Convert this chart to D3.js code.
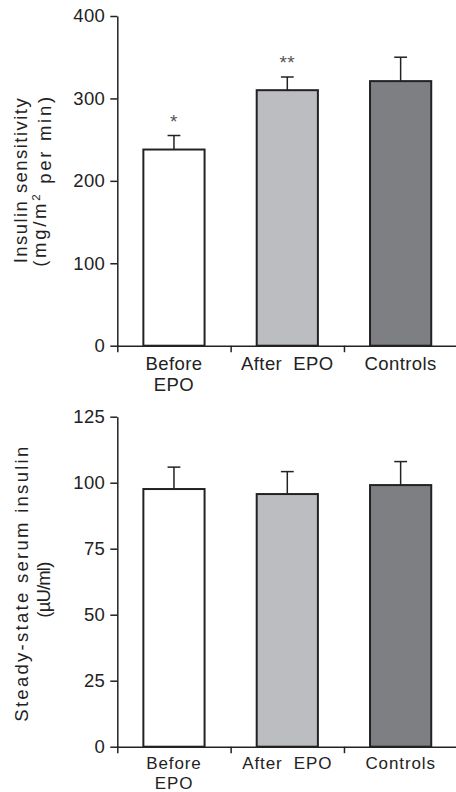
<!DOCTYPE html>
<html>
<head>
<meta charset="utf-8">
<script src="https://cdn.jsdelivr.net/npm/d3@7"></script>
<style>
  body { margin: 0; background: #fff; }
  svg text { font-family: "Liberation Sans", Arial, Helvetica, sans-serif; fill: #222; }
</style>
</head>
<body>
<div id="chart"></div>
<script>
// data
var categories = ["Before EPO", "After EPO", "Controls"];
var categoryLines = [["Before", "EPO"], ["After\u00a0\u00a0EPO"], ["Controls"]];
var barColors = ["#ffffff", "#bcbdc0", "#7e7f83"];

var sensitivity = [238, 310, 321];
var sensitivityErr = [17, 16, 29];
var sensitivityMarks = ["*", "**", ""];
var sensitivityTicks = [0, 100, 200, 300, 400];

var insulin = [97.6, 95.7, 99.1];
var insulinErr = [8.3, 8.5, 8.9];
var insulinTicks = [0, 25, 50, 75, 100, 125];

var width = 456, height = 792;
var left = 117.3, right = 457.3;
var fontSize = "18.5px";
var spacing = "0.4px";
var ink = "#222";

var svg = d3.select("#chart")
        .append("svg")
        .attr("width", width)
        .attr("height", height);

var x = d3.scaleBand()
        .domain(categories)
        .range([left, right])
        .paddingInner(0.46)
        .paddingOuter(0.23);

var sep = d3.scaleLinear().domain([0, 3]).range([left, right]);

function drawPanel(opts) {
    var y = d3.scaleLinear().domain(opts.domain).range([opts.bottom, opts.top]);
    var g = svg.append("g");

    // bars
    g.selectAll("rect.bar")
            .data(opts.values)
            .enter()
            .append("rect")
            .attr("class", "bar")
            .attr("x", function (d, i) { return x(categories[i]); })
            .attr("y", function (d) { return y(d); })
            .attr("width", x.bandwidth())
            .attr("height", function (d) { return y(0) - y(d); })
            .attr("fill", function (d, i) { return barColors[i]; })
            .attr("stroke", ink)
            .attr("stroke-width", 2);

    // error bars (upper only)
    var cap = 6.4;
    opts.values.forEach(function (v, i) {
        var cx = x(categories[i]) + x.bandwidth() / 2;
        var top = y(v + opts.errors[i]);
        g.append("line")
                .attr("x1", cx).attr("x2", cx)
                .attr("y1", y(v)).attr("y2", top)
                .attr("stroke", ink).attr("stroke-width", 1.5);
        g.append("line")
                .attr("x1", cx - cap).attr("x2", cx + cap)
                .attr("y1", top).attr("y2", top)
                .attr("stroke", ink).attr("stroke-width", 1.5);
        if (opts.marks && opts.marks[i]) {
            g.append("text")
                    .attr("x", cx)
                    .attr("y", top - 8)
                    .attr("text-anchor", "middle")
                    .attr("font-size", "19px")
                    .attr("letter-spacing", "0.5px")
                    .style("fill", "#555")
                    .text(opts.marks[i]);
        }
    });

    // y axis
    var yAxis = g.append("g")
            .attr("transform", "translate(" + left + ",0)")
            .call(d3.axisLeft(y).tickValues(opts.ticks).tickSize(7).tickSizeOuter(0).tickPadding(5));
    yAxis.selectAll("path, line").attr("stroke", ink).attr("stroke-width", 1.5);
    yAxis.selectAll("text")
            .attr("font-size", fontSize)
            .attr("letter-spacing", spacing)
            .style("fill", ink);
    yAxis.attr("font-family", null);

    // x axis: baseline and category separators
    var xAxis = g.append("g")
            .attr("transform", "translate(0," + y(0) + ")")
            .call(d3.axisBottom(sep).tickValues([0, 1, 2]).tickSize(6.5).tickSizeOuter(0).tickFormat(""));
    xAxis.selectAll("path, line").attr("stroke", ink).attr("stroke-width", 1.5);

    // category labels
    categories.forEach(function (c, i) {
        var t = g.append("text")
                .attr("x", x(c) + x.bandwidth() / 2)
                .attr("y", y(0) + opts.labelGap[0])
                .attr("text-anchor", "middle")
                .attr("font-size", opts.labelFont[0])
                .attr("letter-spacing", opts.labelFont[1]);
        categoryLines[i].forEach(function (line, j) {
            t.append("tspan")
                    .attr("x", x(c) + x.bandwidth() / 2)
                    .attr("dy", j === 0 ? 0 : opts.labelGap[1])
                    .text(line);
        });
    });

    // y title, two rotated lines
    var cy = (opts.top + opts.bottom) / 2;
    opts.title.forEach(function (line, j) {
        var t = g.append("text")
                .attr("transform", "translate(" + opts.titleX[j] + "," + (cy + opts.titleShift[j]) + ") rotate(-90)")
                .attr("text-anchor", "middle")
                .attr("dy", "0.35em")
                .attr("font-size", fontSize)
                .attr("textLength", opts.titleLen[j])
                .attr("lengthAdjust", "spacing");
        line.forEach(function (part) {
            var s = t.append("tspan").text(part.t);
            if (part.sup) {
                s.attr("font-size", "11.5px").attr("dy", "-0.6em");
            } else if (part.down) {
                s.attr("dy", "0.6em");
            }
        });
    });
}

drawPanel({
    domain: [0, 400], top: 16, bottom: 345.7,
    values: sensitivity, errors: sensitivityErr, marks: sensitivityMarks,
    ticks: sensitivityTicks,
    title: [[{t: "Insulin sensitivity"}],
            [{t: "(mg/m"}, {t: "2", sup: true}, {t: " per min)", down: true}]],
    titleX: [21, 40],
    titleShift: [0, 1],
    titleLen: [165, 170],
    labelGap: [24, 21.5],
    labelFont: [fontSize, spacing]
});

drawPanel({
    domain: [0, 125], top: 416.7, bottom: 746.7,
    values: insulin, errors: insulinErr, marks: null,
    ticks: insulinTicks,
    title: [[{t: "Steady-state serum insulin"}], [{t: "(\u00b5U/ml)"}]],
    titleX: [22, 44],
    titleShift: [2.5, 8],
    titleLen: [275, 56],
    labelGap: [22, 19.8],
    labelFont: ["17px", "0.9px"]
});
</script>
</body>
</html>
